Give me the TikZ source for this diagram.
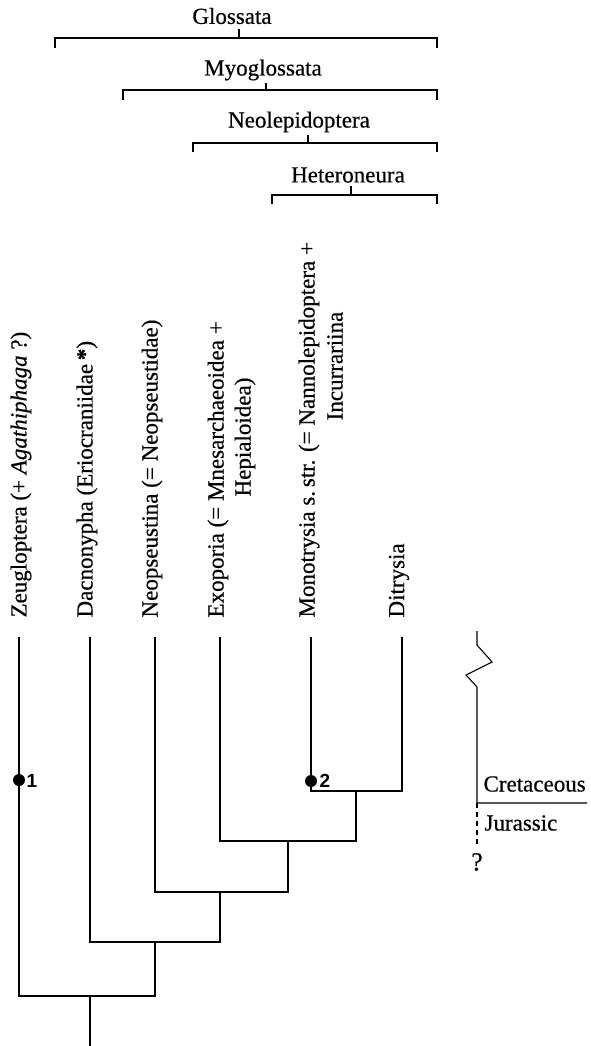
\documentclass[tikz,border=0pt]{standalone}
\usepackage{fontspec}
\setmainfont{Liberation Serif}
\setsansfont{Liberation Sans}
\newfontfamily\heavyserif{Liberation Serif}[FakeBold=0.5]
\begin{document}
\begin{tikzpicture}[x=1pt,y=-1pt,line width=1.1pt,line cap=butt]
\tikzset{
  bigtext/.style={font=\heavyserif\fontsize{23}{27}\selectfont, inner sep=0pt},
  taxon/.style={bigtext, rotate=90, anchor=west},
  taxon2/.style={bigtext, rotate=90, anchor=center},
  numlab/.style={font=\sffamily\bfseries\fontsize{19}{21}\selectfont, inner sep=0pt, anchor=west},
  apodot/.style={circle, fill=black, draw=none, inner sep=0pt, minimum size=12pt},
  epoch/.style={bigtext, anchor=west},
  brk/.style={line width=1.1pt},
  dashline/.style={dash pattern=on 5pt off 4pt}
}
\useasboundingbox (0,0) rectangle (590,1046);

% ---- clade brackets ----
\node[bigtext] (gl) at (232,16) {Glossata};
\coordinate (glL) at (55,48);  \coordinate (glR) at (437,48);
\coordinate (glT) at (239,29); \coordinate (glM) at (239,38);
\draw[brk] (glL) |- (glM) -| (glR);
\draw[brk] (glT) -- (glM);

\node[bigtext] (my) at (263,70) {Myoglossata};
\coordinate (myL) at (123,100); \coordinate (myR) at (437,100);
\coordinate (myT) at (266,83);  \coordinate (myM) at (266,90);
\draw[brk] (myL) |- (myM) -| (myR);
\draw[brk] (myT) -- (myM);

\node[bigtext] (ne) at (299,122) {Neolepidoptera};
\coordinate (neL) at (193,152); \coordinate (neR) at (437,152);
\coordinate (neT) at (308,135); \coordinate (neM) at (308,143);
\draw[brk] (neL) |- (neM) -| (neR);
\draw[brk] (neT) -- (neM);

\node[bigtext] (he) at (348,175) {Heteroneura};
\coordinate (heL) at (272,204); \coordinate (heR) at (437,204);
\coordinate (heT) at (351,186); \coordinate (heM) at (351,195);
\draw[brk] (heL) |- (heM) -| (heR);
\draw[brk] (heT) -- (heM);

% ---- taxon labels ----
\node[taxon] (zeu) at (21,618) {Zeugloptera (+ \textit{Agathiphaga} ?)};
\node[taxon] (dac) at (87,618) {Dacnonypha (Eriocraniidae\,\textbf{*})};
\node[taxon] (neo) at (152,618) {Neopseustina (= Neopseustidae)};
\node[taxon] (exo) at (218,618) {Exoporia (= Mnesarchaeoidea +};
\node[taxon2] (exo2) at (245,437) {Hepialoidea)};
\node[taxon] (mon) at (309,618) {Monotrysia s.\,str. (= Nannolepidoptera +};
\node[taxon2] (mon2) at (335,366) {Incurrariina};
\node[taxon] (dit) at (399,618) {Ditrysia};

% ---- tree ----
\coordinate (tZ) at (19,637);
\coordinate (tD) at (90,637);
\coordinate (tN) at (155,637);
\coordinate (tE) at (220,637);
\coordinate (tM) at (311,637);
\coordinate (tT) at (402,637);
\coordinate (j1) at (356,791);
\coordinate (j2) at (288,841);
\coordinate (j3) at (220,892);
\coordinate (j4) at (155,942);
\coordinate (j5) at (90,996);
\coordinate (root) at (90,1046);

\draw (tM) |- (j1) -| (tT);
\draw (tE) |- (j2) -| (j1);
\draw (tN) |- (j3) -| (j2);
\draw (tD) |- (j4) -| (j3);
\draw (tZ) |- (j5) -| (j4);
\draw (j5) -- (root);

\node[apodot] (d1) at (19,780) {};
\node[numlab] (n1) at (26,781) {1};
\node[apodot] (d2) at (311,781) {};
\node[numlab] (n2) at (319,781) {2};

% ---- time scale ----
\coordinate (ts0) at (477,631);
\coordinate (ts1) at (477,645);
\coordinate (ts2) at (492,662);
\coordinate (ts3) at (466,675);
\coordinate (ts4) at (477,687);
\coordinate (ts5) at (477,803);
\coordinate (ts6) at (587,803);
\coordinate (ts7) at (477,845);
\draw (ts0) -- (ts1) -- (ts2) -- (ts3) -- (ts4) -- (ts5) -- (ts6);
\draw[dashline] (ts5) -- (ts7);
\node[epoch] (cre) at (483,784) {Cretaceous};
\node[epoch] (jur) at (484,823) {Jurassic};
\node[bigtext, font=\heavyserif\fontsize{26}{30}\selectfont] (qm) at (477,862) {?};
\end{tikzpicture}
\end{document}
